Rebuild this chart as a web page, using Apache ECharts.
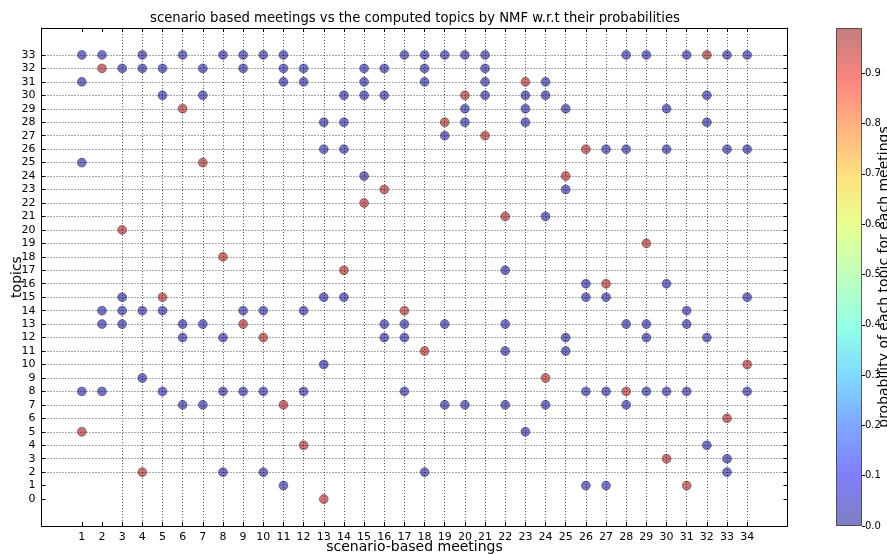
<!DOCTYPE html>
<html><head><meta charset="utf-8">
<script src="https://cdn.jsdelivr.net/npm/echarts@6/dist/echarts.min.js"></script>
<style>html,body{margin:0;padding:0;background:#fff}#c{width:887px;height:554px}</style>
</head><body><div id="c"></div>
<script>
// ---- data ----
const meetings = [1,2,3,4,5,6,7,8,9,10,11,12,13,14,15,16,17,18,19,20,21,22,23,24,25,26,27,28,29,30,31,32,33,34];
const dominantTopic = [5,32,20,2,15,29,25,18,13,12,7,4,0,17,22,23,14,11,28,30,27,21,31,9,24,26,16,8,19,3,1,33,6,10];
const dominantProb = [0.97,0.97,0.97,0.97,0.97,0.97,0.97,0.97,0.97,0.97,0.97,0.97,0.97,0.97,0.97,0.97,0.97,0.97,0.97,0.97,0.97,0.97,0.97,0.97,0.97,0.97,0.97,0.97,0.97,0.97,0.97,0.99,0.97,0.97];
const minorTopics = [
  [33,31,25,8],[33,14,13,8],[32,15,14,13],[33,32,14,9],[32,30,14,8],
  [33,13,12,7],[32,30,13,7],[33,12,8,2],[33,32,14,8],[33,14,8,2],
  [33,32,31,1],[32,31,14,8],[28,26,15,10],[30,28,26,15],[32,31,30,24],
  [32,30,13,12],[33,13,12,8],[33,32,31,2],[33,27,13,7],[33,29,28,7],
  [33,32,31,30],[17,13,11,7],[30,29,28,5],[31,30,21,7],[29,23,12,11],
  [16,15,8,1],[26,15,8,1],[33,26,13,7],[33,13,12,8],[29,26,16,8],
  [33,14,13,8],[30,28,12,4],[33,26,3,2],[33,26,15,8]
];
const minorProbs = [
  [0.01,0.01,0.01,0.01],[0.01,0.01,0.01,0.01],[0.01,0.01,0.01,0.01],[0.01,0.01,0.01,0.01],[0.01,0.01,0.01,0.01],
  [0.01,0.01,0.01,0.01],[0.01,0.01,0.01,0.01],[0.01,0.01,0.01,0.01],[0.01,0.01,0.01,0.01],[0.01,0.01,0.01,0.01],
  [0.01,0.01,0.01,0.01],[0.01,0.01,0.01,0.01],[0.01,0.01,0.01,0.01],[0.01,0.01,0.01,0.01],[0.01,0.01,0.01,0.01],
  [0.01,0.01,0.01,0.01],[0.01,0.01,0.01,0.01],[0.01,0.01,0.01,0.01],[0.01,0.01,0.01,0.01],[0.01,0.01,0.01,0.01],
  [0.01,0.01,0.01,0.01],[0.01,0.01,0.01,0.01],[0.01,0.01,0.01,0.01],[0.01,0.01,0.01,0.01],[0.01,0.01,0.01,0.01],
  [0.01,0.01,0.01,0.01],[0.01,0.01,0.01,0.01],[0.01,0.01,0.01,0.01],[0.01,0.01,0.01,0.01],[0.01,0.01,0.01,0.01],
  [0.01,0.01,0.01,0.01],[0.01,0.01,0.01,0.01],[0.01,0.01,0.01,0.01],[0.01,0.01,0.01,0.01]
];
const xTicks = [1,2,3,4,5,6,7,8,9,10,11,12,13,14,15,16,17,18,19,20,21,22,23,24,25,26,27,28,29,30,31,32,33,34];
const yTicks = [0,1,2,3,4,5,6,7,8,9,10,11,12,13,14,15,16,17,18,19,20,21,22,23,24,25,26,27,28,29,30,31,32,33];
const cbTicks = [0,0.1,0.2,0.3,0.4,0.5,0.6,0.7,0.8,0.9];
const cbMin = 0, cbMax = 0.99;
// jet colormap sampled at 0,0.1,...,1
const jet = ['#000080','#0000f4','#004cff','#00b3ff','#29ffce','#7dff7a','#ceff29','#ffc600','#ff6800','#f40a00','#800000'];

const titleText = 'scenario based meetings vs the computed topics by NMF w.r.t their probabilities';
const xName = 'scenario-based meetings';
const yName = 'topics';
const cbName = 'probability of each topic for each meetings';

// ---- build ----
const FONT = 'DejaVu Sans';
const points = [];
meetings.forEach((m, i) => {
  minorTopics[i].forEach((t, j) => points.push([m, t, minorProbs[i][j]]));
  points.push([m, dominantTopic[i], dominantProb[i]]);
});
function rgba(hex, a) {
  const n = parseInt(hex.slice(1), 16);
  return 'rgba(' + (n >> 16 & 255) + ',' + (n >> 8 & 255) + ',' + (n & 255) + ',' + a + ')';
}
const X_MIN = -1, X_MAX = 36, Y_MIN = -2, Y_MAX = 35;
const gridCol = '#555';
const clear = 'rgba(0,0,0,0)';
const xGridColors = [], yGridColors = [];
for (let v = X_MIN; v <= X_MAX; v++) xGridColors.push(xTicks.includes(v) ? gridCol : clear);
for (let v = Y_MIN; v <= Y_MAX; v++) yGridColors.push(yTicks.includes(v) ? gridCol : clear);

const axisCommon = {
  axisLine: { show: true, onZero: false, lineStyle: { color: '#000', width: 1 } },
};
const chart = echarts.init(document.getElementById('c'), null, { renderer: 'canvas' });
chart.setOption({
  animation: false,
  backgroundColor: '#fff',
  textStyle: { fontFamily: FONT },
  graphic: [{
    type: 'text', x: 415, y: 19,
    style: { text: titleText, align: 'center', verticalAlign: 'middle', font: '13.2px "DejaVu Sans"', fill: '#000' }
  }],
  grid: [
    { left: 41.5, top: 28, width: 746, height: 498, containLabel: false, outerBoundsMode: 'none' },
    { left: 836, top: 28, width: 26, height: 498, containLabel: false, outerBoundsMode: 'none' }
  ],
  xAxis: [
    Object.assign({}, axisCommon, {
      gridIndex: 0, type: 'value', min: X_MIN, max: X_MAX, interval: 1, position: 'bottom',
      axisTick: { show: true, inside: true, length: 4, customValues: xTicks, lineStyle: { color: '#000' } },
      axisLabel: { customValues: xTicks, fontSize: 11, color: '#000', margin: 6, fontFamily: FONT },
      splitLine: { show: true, lineStyle: { color: xGridColors, type: [1, 2], width: 1 } },
      name: xName, nameLocation: 'middle', nameGap: 21, nameMoveOverlap: false,
      nameTextStyle: { fontSize: 14, color: '#000', fontFamily: FONT, verticalAlign: 'middle' }
    }),
    Object.assign({}, axisCommon, {
      gridIndex: 0, type: 'value', min: X_MIN, max: X_MAX, interval: 1, position: 'top',
      axisTick: { show: true, inside: true, length: 4, customValues: xTicks, lineStyle: { color: '#000' } },
      axisLabel: { show: false }, splitLine: { show: false }
    }),
    { gridIndex: 1, type: 'category', data: ['cb'], show: false, boundaryGap: true }
  ],
  yAxis: [
    Object.assign({}, axisCommon, {
      gridIndex: 0, type: 'value', min: Y_MIN, max: Y_MAX, interval: 1, position: 'left',
      axisTick: { show: true, inside: true, length: 4, customValues: yTicks, lineStyle: { color: '#000' } },
      axisLabel: { customValues: yTicks, fontSize: 11, color: '#000', margin: 6, fontFamily: FONT },
      splitLine: { show: true, lineStyle: { color: yGridColors, type: [1, 2], width: 1 } },
      name: yName, nameLocation: 'middle', nameGap: 24, nameRotate: 90, nameMoveOverlap: false,
      nameTextStyle: { fontSize: 14, color: '#000', fontFamily: FONT, verticalAlign: 'middle' }
    }),
    Object.assign({}, axisCommon, {
      gridIndex: 0, type: 'value', min: Y_MIN, max: Y_MAX, interval: 1, position: 'right',
      axisTick: { show: true, inside: true, length: 4, customValues: yTicks, lineStyle: { color: '#000' } },
      axisLabel: { show: false }, splitLine: { show: false }
    }),
    {
      gridIndex: 1, type: 'value', min: cbMin, max: cbMax, position: 'right',
      axisLine: { show: false },
      axisTick: { show: true, inside: false, length: 3, customValues: cbTicks, lineStyle: { color: '#000' } },
      axisLabel: { customValues: cbTicks, fontSize: 10, color: '#000', margin: 3, fontFamily: FONT,
                   formatter: v => v.toFixed(1) },
      splitLine: { show: false },
      name: cbName, nameLocation: 'middle', nameRotate: 90, nameGap: 22, nameMoveOverlap: false,
      nameTextStyle: { fontSize: 14, color: '#000', fontFamily: FONT, verticalAlign: 'middle' }
    }
  ],
  visualMap: [{
    type: 'continuous', show: false, min: cbMin, max: cbMax, dimension: 2, seriesIndex: 0,
    inRange: { color: jet }
  }],
  series: [
    {
      type: 'scatter', xAxisIndex: 0, yAxisIndex: 0, data: points, symbolSize: 9,
      itemStyle: { opacity: 0.55, borderColor: '#000', borderWidth: 0.6 }
    },
    {
      type: 'bar', xAxisIndex: 2, yAxisIndex: 2, data: [cbMax], barWidth: '100%', silent: true,
      itemStyle: {
        color: { type: 'linear', x: 0, y: 1, x2: 0, y2: 0,
                 colorStops: jet.map((c, i) => ({ offset: i / (jet.length - 1), color: rgba(c, 0.5) })) },
        borderColor: 'rgba(0,0,0,0.6)', borderWidth: 1
      }
    }
  ]
});
</script>
</body></html>
